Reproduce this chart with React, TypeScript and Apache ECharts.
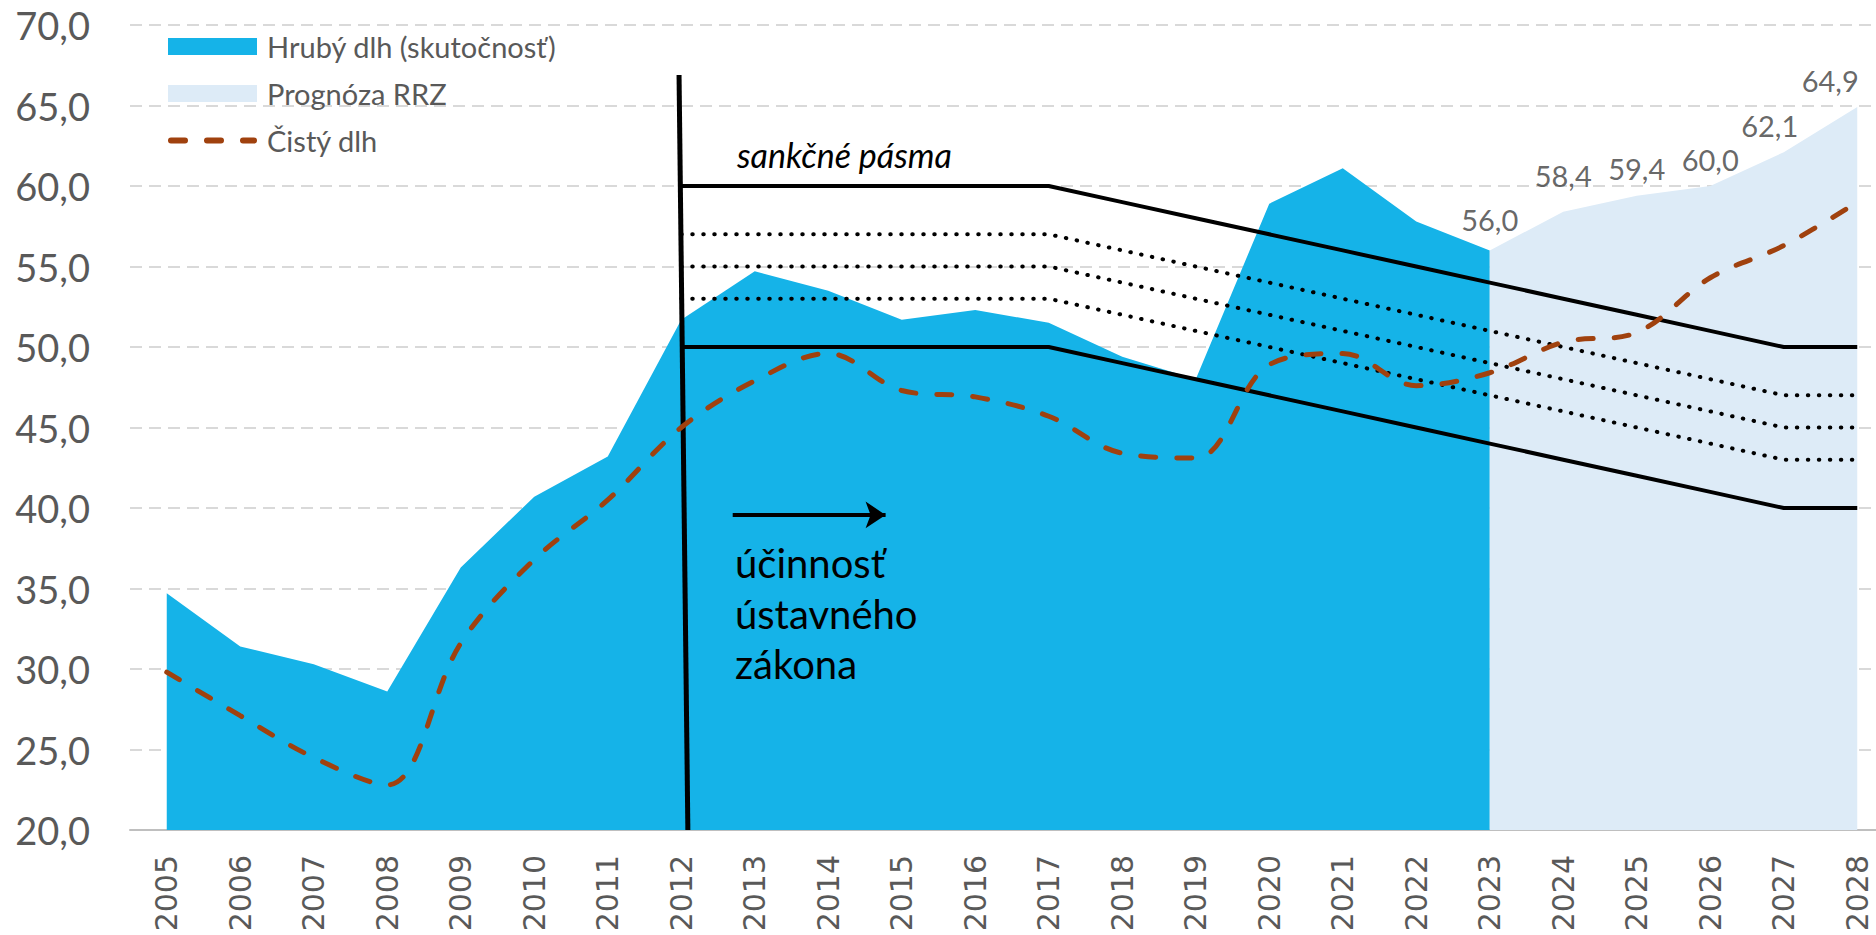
import React, { useEffect, useRef } from "react";
import * as echarts from "echarts";

const years = ["2005","2006","2007","2008","2009","2010","2011","2012","2013","2014","2015","2016","2017","2018","2019","2020","2021","2022","2023","2024","2025","2026","2027","2028"];

const grossDebt = [34.7,31.4,30.3,28.6,36.3,40.7,43.2,51.7,54.7,53.5,51.7,52.3,51.5,49.4,48.0,58.9,61.1,57.8,56.0,null,null,null,null,null];
const forecastRRZ = [null,null,null,null,null,null,null,null,null,null,null,null,null,null,null,null,null,null,56.0,58.4,59.4,60.0,62.1,64.9];
const netDebt = [29.8,27.1,24.5,22.8,31.6,36.8,40.5,45.0,47.9,49.6,47.3,46.9,45.7,43.4,43.1,48.9,49.6,47.6,48.4,50.3,50.9,54.3,56.3,59.0];

const brakeTop = [null,null,null,null,null,null,null,60,60,60,60,60,60,59,58,57,56,55,54,53,52,51,50,50];
const brakeBand1 = [null,null,null,null,null,null,null,57,57,57,57,57,57,56,55,54,53,52,51,50,49,48,47,47];
const brakeBand2 = [null,null,null,null,null,null,null,55,55,55,55,55,55,54,53,52,51,50,49,48,47,46,45,45];
const brakeBand3 = [null,null,null,null,null,null,null,53,53,53,53,53,53,52,51,50,49,48,47,46,45,44,43,43];
const brakeBottom = [null,null,null,null,null,null,null,50,50,50,50,50,50,49,48,47,46,45,44,43,42,41,40,40];

// annotation marker: start of the constitutional law (index-based x positions)
const lawLine = [[6.97, 66.9], [7.09, 20]];
const lawArrow = [[7.7, 39.57], [9.78, 39.57]];

const yTicks = { min: 20, max: 70, step: 5 };

const nameGross = "Hrubý dlh (skutočnosť)";
const nameForecast = "Prognóza RRZ";
const nameNet = "Čistý dlh";

const dashIcon =
  "path://M3,0h14a3,3 0 0 1 0,6h-14a3,3 0 0 1 0,-6z" +
  "M39,0h14a3,3 0 0 1 0,6h-14a3,3 0 0 1 0,-6z" +
  "M75,0h11a3,3 0 0 1 0,6h-11a3,3 0 0 1 0,-6z";

const labelOffsets: Record<number, number[]> = { 18: [0, -4], 19: [0, -9], 22: [-14, 0], 23: [-27, 0] };

const fmt = (v: number) => v.toFixed(1).replace(".", ",");

export default function App() {
  const ref = useRef<HTMLDivElement>(null);
  useEffect(() => {
    if (!ref.current) return;
    const chart = echarts.init(ref.current, null, { renderer: "svg" });
    const brakeSolid = (data: (number | null)[]) => ({
      type: "line", data, symbol: "none", silent: true, z: 3,
      lineStyle: { color: "#000", width: 4 },
    });
    const brakeDot = (data: (number | null)[]) => ({
      type: "line", data, symbol: "none", silent: true, z: 3,
      lineStyle: { color: "#000", width: 4, type: [0.5, 10.5], cap: "round" },
    });
    chart.setOption({
      animation: false,
      backgroundColor: "#fff",
      textStyle: { fontFamily: "Lato" },
      grid: { left: 130, top: 25, width: 1764, height: 805, containLabel: false, outerBoundsMode: "none" },
      legend: {
        orient: "vertical", left: 168, top: 32, padding: 0,
        itemWidth: 89, itemHeight: 17, itemGap: 18,
        textStyle: { fontFamily: "Lato", fontSize: 29, lineHeight: 17, color: "#595959", padding: [0, 0, 0, 5] },
        data: [
          { name: nameGross, icon: "rect" },
          { name: nameForecast, icon: "rect" },
          { name: nameNet, icon: dashIcon },
        ],
      },
      xAxis: [
        {
          type: "category", data: years, boundaryGap: true,
          axisTick: { show: false },
          axisLine: { lineStyle: { color: "#BFBFBF", width: 2 } },
          axisLabel: { rotate: 90, margin: 25, fontSize: 30, fontFamily: "DejaVu Sans", color: "#595959", interval: 0 },
          splitLine: { show: false },
        },
        { type: "value", min: -0.5, max: 23.5, show: false },
      ],
      yAxis: {
        type: "value", min: yTicks.min, max: yTicks.max, interval: yTicks.step,
        axisLine: { show: false }, axisTick: { show: false },
        axisLabel: { formatter: (v: number) => fmt(v), fontSize: 38, fontFamily: "Lato", color: "#595959", margin: 40 },
        splitLine: { lineStyle: { color: "#D9D9D9", width: 2, type: [12, 7] } },
      },
      series: [
        {
          name: nameGross, type: "line", data: grossDebt, symbol: "none", z: 1,
          itemStyle: { color: "#15B3E8" },
          lineStyle: { width: 0 },
          areaStyle: { color: "#15B3E8", opacity: 1, origin: "start" },
        },
        {
          name: nameForecast, type: "line", z: 1, data: forecastRRZ,
          symbol: "none",
          itemStyle: { color: "#DDEBF7" },
          lineStyle: { width: 0 },
          areaStyle: { color: "#DDEBF7", opacity: 1, origin: "start" },
        },
        {
          type: "scatter", z: 6, silent: true,
          data: forecastRRZ.map((v, i) =>
            v == null ? null : { value: v, label: { offset: labelOffsets[i] || [0, 0] } }
          ),
          symbol: "circle", symbolSize: 1,
          itemStyle: { color: "rgba(0,0,0,0)" },
          label: {
            show: true, position: "top", distance: 12,
            formatter: (p: any) => fmt(Array.isArray(p.value) ? p.value[1] : p.value),
            fontFamily: "Lato", fontSize: 29, color: "#404040",
          },
        },
        brakeSolid(brakeTop),
        brakeDot(brakeBand1),
        brakeDot(brakeBand2),
        brakeDot(brakeBand3),
        brakeSolid(brakeBottom),
        {
          type: "line", xAxisIndex: 1, data: lawLine, symbol: "none", silent: true, z: 4,
          lineStyle: { color: "#000", width: 5 },
        },
        {
          type: "lines", coordinateSystem: "cartesian2d", xAxisIndex: 1, z: 4, silent: true,
          symbol: ["none", "arrow"], symbolSize: 20,
          lineStyle: { color: "#000", width: 4, opacity: 1 },
          data: [{ coords: lawArrow }],
        },
        {
          name: nameNet, type: "line", data: netDebt, symbol: "none", smooth: 0.35, z: 5,
          itemStyle: { color: "#A0410E" },
          lineStyle: { color: "#A0410E", width: 5, type: [15, 21], cap: "round" },
        },
      ],
      graphic: [
        {
          type: "text", left: 737, top: 137, z: 10,
          style: { text: "sankčné pásma", font: "italic 34px Lato", fill: "#000" },
        },
        {
          type: "text", left: 735, top: 538, z: 10,
          style: { text: "účinnosť\nústavného\nzákona", font: "40px Lato", lineHeight: 50.5, fill: "#000" },
        },
      ],
    });
    return () => chart.dispose();
  }, []);
  return <div ref={ref} style={{ position: "absolute", left: 0, top: 0, width: 1876, height: 935 }} />;
}
